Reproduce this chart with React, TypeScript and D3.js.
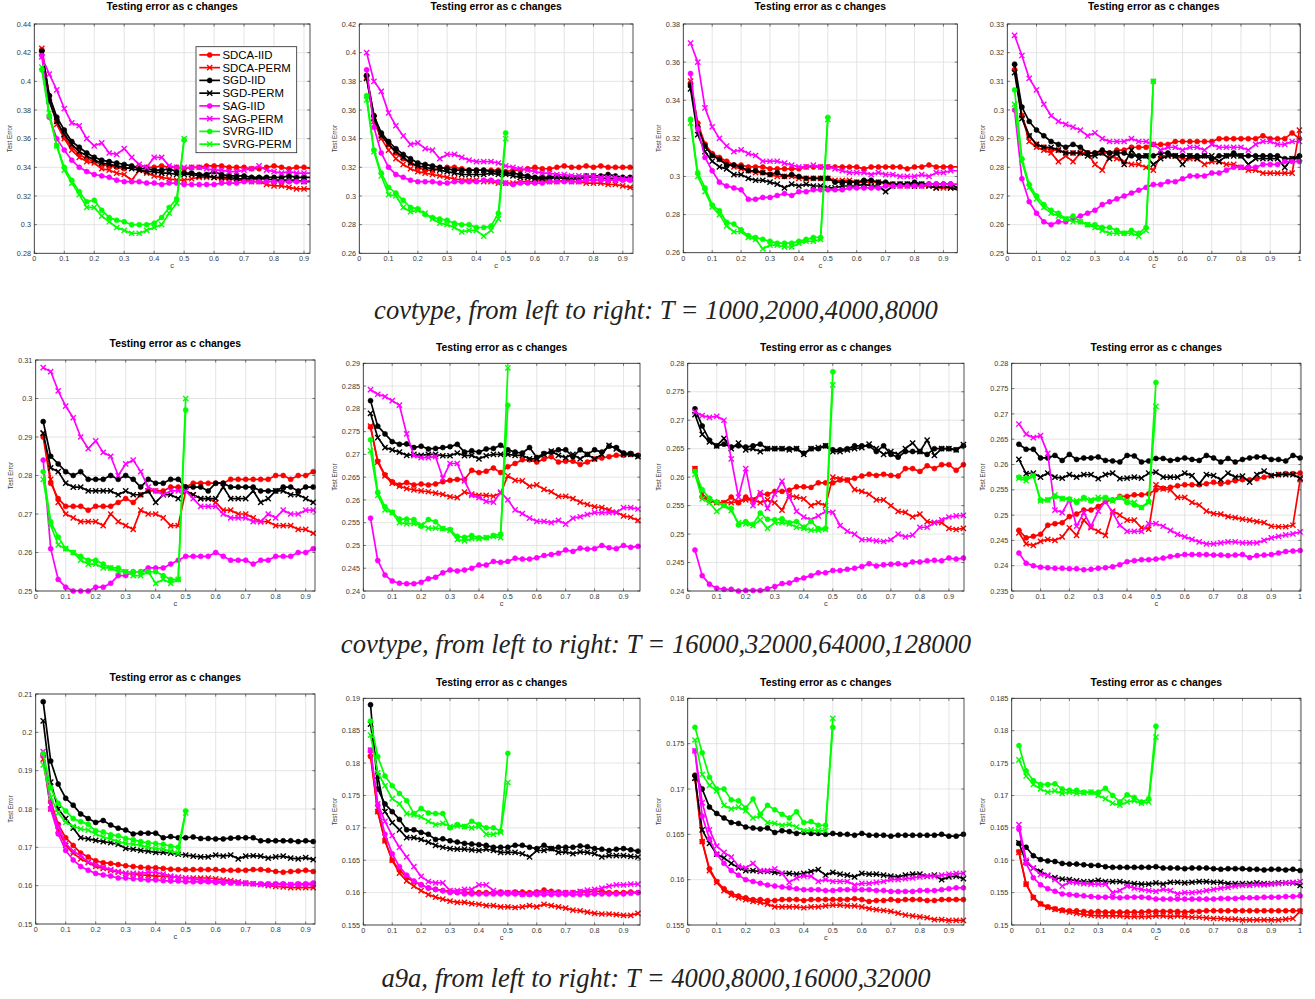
import React from 'react';
import * as d3 from 'd3';

// ---------------- c values ----------------
const C38 = [0.025,0.05,0.075,0.1,0.125,0.15,0.175,0.2,0.225,0.25,0.275,0.3,0.325,0.35,0.375,0.4,0.425,0.45,0.475,0.5,0.525,0.55,0.575,0.6,0.625,0.65,0.675,0.7,0.725,0.75,0.775,0.8,0.825,0.85,0.875,0.9,0.925,0.95];
const C40 = [0.025,0.05,0.075,0.1,0.125,0.15,0.175,0.2,0.225,0.25,0.275,0.3,0.325,0.35,0.375,0.4,0.425,0.45,0.475,0.5,0.525,0.55,0.575,0.6,0.625,0.65,0.675,0.7,0.725,0.75,0.775,0.8,0.825,0.85,0.875,0.9,0.925,0.95,0.975,1.0];
const C20 = [0.025,0.05,0.075,0.1,0.125,0.15,0.175,0.2,0.225,0.25,0.275,0.3,0.325,0.35,0.375,0.4,0.425,0.45,0.475,0.5];

const SERIES_NAMES = ['SDCA-IID','SDCA-PERM','SGD-IID','SGD-PERM','SAG-IID','SAG-PERM','SVRG-IID','SVRG-PERM'];
const SERIES_COLORS = ['#ff0000','#ff0000','#000000','#000000','#ff00ff','#ff00ff','#00ff00','#00ff00'];
const SERIES_MARKERS = ['o','x','o','x','o','x','o','x'];

const TITLE = 'Testing error as c changes';
const X_LABEL = 'c';
const Y_LABEL = 'Test Error';
const CAPTIONS = [
  'covtype, from left to right: T = 1000,2000,4000,8000',
  'covtype, from left to right: T = 16000,32000,64000,128000',
  'a9a, from left to right: T = 4000,8000,16000,32000',
];

const X_TICKS_9 = [0,0.1,0.2,0.3,0.4,0.5,0.6,0.7,0.8,0.9];
const X_TICKS_10 = [0,0.1,0.2,0.3,0.4,0.5,0.6,0.7,0.8,0.9,1];

// ---------------- Panel 1: covtype T=1000 ----------------
const P1_YTICKS = [0.28,0.3,0.32,0.34,0.36,0.38,0.4,0.42,0.44];
const P1_SDCA_IID = [0.422,0.390,0.372,0.361,0.354,0.349,0.346,0.344,0.342,0.341,0.340,0.339,0.340,0.341,0.340,0.340,0.341,0.340,0.340,0.339,0.340,0.340,0.341,0.341,0.341,0.340,0.340,0.340,0.339,0.339,0.340,0.341,0.340,0.339,0.340,0.340,0.339,0.339];
const P1_SDCA_PERM = [0.423,0.388,0.370,0.360,0.352,0.347,0.344,0.343,0.339,0.338,0.336,0.335,0.331,0.338,0.336,0.334,0.333,0.332,0.331,0.331,0.332,0.333,0.333,0.333,0.332,0.332,0.331,0.331,0.330,0.330,0.328,0.327,0.327,0.326,0.325,0.325,0.325,0.325];
const P1_SGD_IID = [0.421,0.390,0.375,0.366,0.358,0.354,0.350,0.347,0.345,0.344,0.343,0.342,0.341,0.339,0.339,0.338,0.338,0.339,0.337,0.336,0.336,0.335,0.335,0.337,0.335,0.334,0.334,0.334,0.333,0.333,0.333,0.333,0.333,0.334,0.333,0.333,0.333,0.333];
const P1_SGD_PERM = [0.420,0.386,0.372,0.363,0.356,0.351,0.348,0.345,0.343,0.342,0.341,0.340,0.339,0.338,0.337,0.337,0.336,0.336,0.335,0.335,0.335,0.334,0.334,0.333,0.333,0.333,0.332,0.332,0.332,0.332,0.332,0.331,0.331,0.331,0.331,0.330,0.330,0.330];
const P1_SAG_IID = [0.418,0.375,0.360,0.352,0.345,0.340,0.337,0.335,0.334,0.333,0.331,0.330,0.330,0.330,0.329,0.329,0.328,0.329,0.329,0.328,0.328,0.328,0.328,0.328,0.329,0.329,0.329,0.330,0.330,0.330,0.330,0.330,0.330,0.330,0.330,0.330,0.331,0.331];
const P1_SAG_PERM = [0.417,0.405,0.394,0.381,0.371,0.369,0.360,0.355,0.357,0.350,0.349,0.353,0.347,0.342,0.340,0.347,0.347,0.341,0.340,0.340,0.340,0.340,0.339,0.338,0.338,0.337,0.337,0.338,0.339,0.341,0.338,0.337,0.336,0.337,0.336,0.336,0.336,0.336];
const P1_SVRG_IID = [0.408,0.376,0.355,0.340,0.331,0.323,0.316,0.317,0.310,0.305,0.303,0.302,0.300,0.300,0.300,0.301,0.305,0.312,0.318,0.359];
const P1_SVRG_PERM = [0.410,0.378,0.355,0.338,0.329,0.321,0.312,0.312,0.306,0.302,0.298,0.296,0.294,0.294,0.296,0.298,0.300,0.308,0.315,0.360];

// ---------------- Panel 2: covtype T=2000 ----------------
const P2_YTICKS = [0.26,0.28,0.3,0.32,0.34,0.36,0.38,0.4,0.42];
const P2_SDCA_IID = [0.384,0.356,0.343,0.336,0.330,0.326,0.323,0.320,0.318,0.318,0.319,0.320,0.320,0.319,0.318,0.318,0.318,0.318,0.318,0.317,0.318,0.318,0.319,0.320,0.319,0.319,0.320,0.321,0.320,0.320,0.321,0.320,0.321,0.320,0.320,0.320,0.320,0.319];
const P2_SDCA_PERM = [0.383,0.352,0.340,0.332,0.326,0.322,0.319,0.317,0.316,0.315,0.314,0.313,0.312,0.311,0.311,0.311,0.310,0.310,0.309,0.309,0.309,0.310,0.310,0.310,0.311,0.310,0.310,0.311,0.310,0.310,0.309,0.309,0.309,0.308,0.308,0.307,0.306,0.306];
const P2_SGD_IID = [0.384,0.356,0.344,0.338,0.333,0.329,0.326,0.323,0.322,0.321,0.320,0.319,0.318,0.318,0.318,0.318,0.318,0.317,0.317,0.316,0.316,0.315,0.314,0.313,0.313,0.313,0.314,0.313,0.313,0.313,0.314,0.314,0.314,0.315,0.314,0.313,0.313,0.313];
const P2_SGD_PERM = [0.382,0.354,0.342,0.336,0.331,0.327,0.323,0.321,0.320,0.319,0.318,0.317,0.316,0.315,0.315,0.315,0.315,0.316,0.315,0.315,0.314,0.313,0.313,0.312,0.312,0.312,0.313,0.312,0.312,0.312,0.313,0.313,0.313,0.312,0.312,0.312,0.312,0.312];
const P2_SAG_IID = [0.388,0.348,0.330,0.320,0.315,0.313,0.311,0.310,0.310,0.310,0.309,0.309,0.310,0.310,0.310,0.310,0.311,0.311,0.310,0.309,0.308,0.309,0.309,0.309,0.309,0.310,0.310,0.310,0.310,0.310,0.311,0.311,0.311,0.311,0.311,0.311,0.311,0.311];
const P2_SAG_PERM = [0.400,0.380,0.373,0.358,0.349,0.342,0.336,0.337,0.333,0.332,0.326,0.329,0.329,0.327,0.325,0.324,0.324,0.324,0.323,0.321,0.320,0.319,0.318,0.317,0.316,0.316,0.315,0.315,0.314,0.314,0.314,0.314,0.313,0.313,0.313,0.312,0.312,0.312];
const P2_SVRG_IID = [0.370,0.332,0.316,0.306,0.302,0.297,0.292,0.291,0.287,0.285,0.284,0.283,0.281,0.280,0.280,0.278,0.278,0.279,0.288,0.344];
const P2_SVRG_PERM = [0.367,0.331,0.314,0.301,0.300,0.292,0.289,0.290,0.288,0.284,0.281,0.280,0.278,0.275,0.276,0.276,0.272,0.276,0.284,0.340];

// ---------------- Panel 3: covtype T=4000 ----------------
const P3_YTICKS = [0.26,0.28,0.3,0.32,0.34,0.36,0.38];
const P3_SDCA_IID = [0.349,0.328,0.317,0.312,0.310,0.308,0.306,0.306,0.305,0.305,0.305,0.304,0.304,0.304,0.304,0.304,0.305,0.305,0.305,0.305,0.305,0.305,0.305,0.305,0.304,0.305,0.305,0.305,0.305,0.305,0.304,0.305,0.305,0.306,0.305,0.305,0.305,0.305];
const P3_SDCA_PERM = [0.350,0.327,0.316,0.311,0.309,0.307,0.305,0.304,0.303,0.302,0.302,0.301,0.300,0.300,0.300,0.299,0.299,0.299,0.299,0.299,0.298,0.298,0.298,0.297,0.297,0.297,0.297,0.296,0.296,0.295,0.295,0.295,0.295,0.295,0.294,0.294,0.294,0.294];
const P3_SGD_IID = [0.348,0.326,0.316,0.311,0.309,0.306,0.306,0.305,0.303,0.303,0.302,0.301,0.302,0.300,0.301,0.300,0.299,0.299,0.299,0.299,0.297,0.297,0.297,0.297,0.298,0.298,0.297,0.297,0.296,0.296,0.296,0.297,0.296,0.296,0.296,0.296,0.296,0.294];
const P3_SGD_PERM = [0.346,0.322,0.313,0.308,0.305,0.304,0.301,0.301,0.299,0.298,0.298,0.297,0.296,0.294,0.296,0.295,0.296,0.295,0.295,0.294,0.294,0.295,0.295,0.295,0.296,0.295,0.295,0.292,0.295,0.296,0.296,0.295,0.296,0.295,0.294,0.295,0.294,0.293];
const P3_SAG_IID = [0.354,0.325,0.310,0.303,0.297,0.295,0.294,0.293,0.288,0.288,0.289,0.289,0.290,0.291,0.290,0.292,0.292,0.293,0.293,0.293,0.293,0.293,0.294,0.294,0.294,0.294,0.294,0.295,0.295,0.295,0.295,0.295,0.295,0.296,0.296,0.296,0.296,0.296];
const P3_SAG_PERM = [0.370,0.360,0.336,0.326,0.320,0.316,0.313,0.314,0.312,0.311,0.308,0.308,0.308,0.307,0.306,0.305,0.305,0.306,0.305,0.305,0.304,0.303,0.302,0.302,0.302,0.301,0.302,0.301,0.301,0.300,0.300,0.300,0.301,0.300,0.302,0.302,0.303,0.303];
const P3_SVRG_IID = [0.330,0.302,0.294,0.285,0.282,0.276,0.275,0.272,0.269,0.268,0.267,0.266,0.265,0.265,0.265,0.266,0.267,0.268,0.268,0.331];
const P3_SVRG_PERM = [0.328,0.300,0.292,0.284,0.280,0.274,0.271,0.271,0.268,0.267,0.262,0.264,0.264,0.263,0.263,0.265,0.266,0.266,0.267,0.330];

// ---------------- Panel 4: covtype T=8000 ----------------
const P4_YTICKS = [0.25,0.26,0.27,0.28,0.29,0.3,0.31,0.32,0.33];
const P4_SDCA_IID = [0.314,0.298,0.291,0.288,0.287,0.286,0.286,0.285,0.285,0.285,0.285,0.285,0.285,0.285,0.286,0.286,0.287,0.287,0.287,0.288,0.288,0.288,0.289,0.289,0.289,0.289,0.289,0.289,0.290,0.290,0.290,0.290,0.290,0.290,0.291,0.290,0.290,0.290,0.292,0.290];
const P4_SDCA_PERM = [0.315,0.298,0.289,0.287,0.286,0.285,0.282,0.284,0.282,0.285,0.285,0.281,0.279,0.284,0.283,0.282,0.281,0.281,0.280,0.279,0.284,0.284,0.284,0.283,0.283,0.283,0.281,0.282,0.282,0.281,0.281,0.280,0.279,0.279,0.278,0.278,0.278,0.278,0.278,0.293];
const P4_SGD_IID = [0.316,0.301,0.296,0.293,0.291,0.289,0.288,0.287,0.288,0.287,0.285,0.285,0.286,0.285,0.285,0.285,0.284,0.284,0.284,0.284,0.285,0.285,0.284,0.284,0.284,0.284,0.284,0.283,0.284,0.284,0.285,0.284,0.284,0.284,0.284,0.284,0.284,0.283,0.283,0.284];
const P4_SGD_PERM = [0.313,0.297,0.291,0.288,0.287,0.287,0.286,0.285,0.285,0.285,0.284,0.284,0.285,0.283,0.285,0.281,0.286,0.283,0.284,0.281,0.283,0.284,0.284,0.281,0.284,0.283,0.284,0.284,0.282,0.284,0.284,0.284,0.281,0.283,0.283,0.283,0.283,0.280,0.283,0.283];
const P4_SAG_IID = [0.300,0.276,0.268,0.264,0.261,0.260,0.261,0.261,0.262,0.263,0.264,0.265,0.267,0.268,0.269,0.270,0.271,0.272,0.273,0.274,0.274,0.275,0.275,0.276,0.277,0.277,0.277,0.278,0.278,0.279,0.280,0.280,0.280,0.280,0.281,0.281,0.281,0.282,0.282,0.282];
const P4_SAG_PERM = [0.326,0.319,0.311,0.307,0.302,0.298,0.296,0.295,0.294,0.293,0.291,0.292,0.290,0.289,0.289,0.289,0.290,0.289,0.289,0.288,0.286,0.287,0.287,0.286,0.287,0.287,0.286,0.288,0.287,0.287,0.287,0.287,0.286,0.288,0.289,0.289,0.288,0.288,0.289,0.289];
const P4_SVRG_IID = [0.307,0.283,0.274,0.270,0.267,0.265,0.264,0.262,0.263,0.261,0.260,0.260,0.259,0.259,0.258,0.257,0.258,0.257,0.259,0.310];
const P4_SVRG_PERM = [0.302,0.282,0.273,0.269,0.266,0.264,0.263,0.262,0.261,0.261,0.260,0.259,0.258,0.257,0.257,0.257,0.257,0.256,0.258,0.310];

// ---------------- Panel 5: covtype T=16000 ----------------
const P5_YTICKS = [0.25,0.26,0.27,0.28,0.29,0.3,0.31];
const P5_SDCA_IID = [0.290,0.278,0.274,0.272,0.272,0.272,0.271,0.272,0.272,0.272,0.273,0.274,0.273,0.275,0.276,0.276,0.276,0.277,0.277,0.277,0.278,0.278,0.278,0.278,0.278,0.279,0.279,0.279,0.279,0.279,0.279,0.280,0.280,0.279,0.280,0.280,0.281,0.281];
const P5_SDCA_PERM = [0.291,0.279,0.273,0.270,0.269,0.268,0.268,0.268,0.267,0.270,0.268,0.267,0.266,0.271,0.270,0.270,0.269,0.267,0.267,0.276,0.275,0.274,0.274,0.273,0.271,0.271,0.270,0.270,0.269,0.268,0.268,0.267,0.267,0.267,0.266,0.266,0.265,0.264];
const P5_SGD_IID = [0.294,0.285,0.283,0.281,0.280,0.281,0.279,0.279,0.279,0.280,0.279,0.280,0.279,0.277,0.279,0.278,0.278,0.279,0.279,0.277,0.277,0.277,0.276,0.278,0.278,0.277,0.277,0.277,0.277,0.276,0.276,0.276,0.277,0.277,0.276,0.277,0.277,0.277];
const P5_SGD_PERM = [0.291,0.282,0.281,0.278,0.277,0.277,0.276,0.276,0.276,0.276,0.275,0.276,0.275,0.275,0.276,0.273,0.275,0.275,0.274,0.276,0.275,0.274,0.274,0.274,0.277,0.274,0.274,0.274,0.276,0.273,0.274,0.276,0.276,0.275,0.275,0.274,0.273,0.275];
const P5_SAG_IID = [0.284,0.261,0.253,0.251,0.250,0.250,0.250,0.251,0.251,0.252,0.254,0.254,0.255,0.255,0.256,0.256,0.256,0.257,0.258,0.259,0.259,0.259,0.259,0.260,0.259,0.258,0.258,0.258,0.257,0.258,0.258,0.259,0.259,0.259,0.260,0.260,0.261,0.261];
const P5_SAG_PERM = [0.308,0.307,0.302,0.298,0.295,0.290,0.287,0.289,0.286,0.285,0.280,0.283,0.284,0.281,0.277,0.276,0.275,0.276,0.276,0.276,0.274,0.272,0.272,0.272,0.270,0.269,0.269,0.269,0.268,0.268,0.270,0.269,0.271,0.270,0.270,0.271,0.271,0.270];
const P5_SVRG_IID = [0.281,0.268,0.264,0.261,0.260,0.259,0.258,0.258,0.257,0.256,0.256,0.255,0.255,0.255,0.255,0.255,0.254,0.253,0.253,0.297];
const P5_SVRG_PERM = [0.279,0.267,0.262,0.261,0.260,0.258,0.257,0.257,0.256,0.256,0.255,0.255,0.254,0.254,0.255,0.252,0.253,0.252,0.253,0.300];

// ---------------- Panel 6: covtype T=32000 ----------------
const P6_YTICKS = [0.24,0.245,0.25,0.255,0.26,0.265,0.27,0.275,0.28,0.285,0.29];
const P6_SDCA_IID = [0.2760,0.2685,0.2655,0.2640,0.2633,0.2638,0.2633,0.2635,0.2633,0.2635,0.2640,0.2643,0.2645,0.2645,0.2665,0.2660,0.2663,0.2670,0.2660,0.2673,0.2680,0.2688,0.2688,0.2683,0.2690,0.2695,0.2683,0.2685,0.2685,0.2678,0.2683,0.2690,0.2692,0.2695,0.2698,0.2698,0.2700,0.2698];
const P6_SDCA_PERM = [0.2762,0.2683,0.2653,0.2637,0.2630,0.2625,0.2622,0.2620,0.2618,0.2615,0.2612,0.2607,0.2605,0.2617,0.2613,0.2610,0.2610,0.2608,0.2615,0.2653,0.2643,0.2642,0.2630,0.2633,0.2623,0.2618,0.2608,0.2608,0.2603,0.2595,0.2590,0.2585,0.2583,0.2578,0.2573,0.2565,0.2562,0.2555];
const P6_SGD_IID = [0.2818,0.2762,0.2745,0.2728,0.2722,0.2723,0.2715,0.2718,0.2712,0.2713,0.2715,0.2717,0.2722,0.2705,0.2708,0.2705,0.2712,0.2713,0.2720,0.2710,0.2705,0.2703,0.2715,0.2693,0.2702,0.2705,0.2710,0.2710,0.2695,0.2710,0.2700,0.2710,0.2705,0.2718,0.2715,0.2703,0.2702,0.2697];
const P6_SGD_PERM = [0.2790,0.2737,0.2715,0.2710,0.2705,0.2698,0.2700,0.2698,0.2700,0.2700,0.2697,0.2697,0.2703,0.2697,0.2698,0.2690,0.2697,0.2700,0.2700,0.2700,0.2698,0.2698,0.2690,0.2690,0.2700,0.2707,0.2698,0.2693,0.2700,0.2690,0.2700,0.2690,0.2700,0.2720,0.2712,0.2700,0.2700,0.2695];
const P6_SAG_IID = [0.2560,0.2467,0.2435,0.2422,0.2417,0.2416,0.2416,0.2419,0.2427,0.2430,0.2440,0.2446,0.2444,0.2446,0.2450,0.2457,0.2457,0.2465,0.2463,0.2465,0.2472,0.2470,0.2470,0.2473,0.2478,0.2480,0.2483,0.2490,0.2487,0.2494,0.2492,0.2493,0.2500,0.2495,0.2493,0.2500,0.2496,0.2498];
const P6_SAG_PERM = [0.2842,0.2832,0.2827,0.2818,0.2808,0.2745,0.2697,0.2693,0.2693,0.2695,0.2648,0.2680,0.2680,0.2642,0.2610,0.2605,0.2597,0.2595,0.2617,0.2600,0.2578,0.2570,0.2560,0.2553,0.2553,0.2550,0.2555,0.2547,0.2560,0.2563,0.2568,0.2572,0.2572,0.2572,0.2572,0.2583,0.2583,0.2580];
const P6_SVRG_IID = [0.2732,0.2617,0.2585,0.2573,0.2558,0.2558,0.2557,0.2542,0.2557,0.2552,0.2537,0.2535,0.2520,0.2518,0.2522,0.2517,0.2517,0.2522,0.2525,0.2808];
const P6_SVRG_PERM = [0.2708,0.2610,0.2578,0.2572,0.2550,0.2548,0.2548,0.2545,0.2538,0.2538,0.2537,0.2533,0.2513,0.2510,0.2515,0.2515,0.2517,0.2520,0.2517,0.2890];

// ---------------- Panel 7: covtype T=64000 ----------------
const P7_YTICKS = [0.24,0.245,0.25,0.255,0.26,0.265,0.27,0.275,0.28];
const P7_SDCA_IID = [0.2615,0.2565,0.2558,0.2556,0.2555,0.2565,0.2555,0.2565,0.2560,0.2570,0.2570,0.2575,0.2575,0.2577,0.2583,0.2583,0.2582,0.2590,0.2590,0.2590,0.2595,0.2595,0.2598,0.2602,0.2605,0.2603,0.2605,0.2603,0.2602,0.2615,0.2615,0.2610,0.2620,0.2615,0.2622,0.2622,0.2612,0.2622];
const P7_SDCA_PERM = [0.2615,0.2570,0.2560,0.2555,0.2555,0.2555,0.2557,0.2560,0.2560,0.2555,0.2560,0.2555,0.2542,0.2568,0.2565,0.2562,0.2550,0.2555,0.2550,0.2600,0.2597,0.2595,0.2578,0.2575,0.2570,0.2560,0.2560,0.2550,0.2540,0.2538,0.2530,0.2535,0.2522,0.2520,0.2520,0.2510,0.2508,0.2510];
const P7_SGD_IID = [0.2720,0.2690,0.2665,0.2655,0.2658,0.2653,0.2655,0.2653,0.2655,0.2658,0.2650,0.2650,0.2650,0.2650,0.2650,0.2642,0.2650,0.2650,0.2655,0.2648,0.2648,0.2650,0.2655,0.2655,0.2655,0.2645,0.2655,0.2640,0.2635,0.2645,0.2645,0.2645,0.2640,0.2650,0.2650,0.2650,0.2648,0.2655];
const P7_SGD_PERM = [0.2710,0.2675,0.2662,0.2655,0.2668,0.2650,0.2660,0.2648,0.2650,0.2645,0.2650,0.2650,0.2650,0.2648,0.2650,0.2640,0.2650,0.2652,0.2655,0.2645,0.2645,0.2648,0.2650,0.2652,0.2658,0.2650,0.2640,0.2645,0.2640,0.2650,0.2660,0.2645,0.2665,0.2638,0.2650,0.2650,0.2648,0.2657];
const P7_SAG_IID = [0.2472,0.2427,0.2412,0.2405,0.2403,0.2403,0.2400,0.2401,0.2401,0.2401,0.2404,0.2408,0.2413,0.2414,0.2420,0.2423,0.2427,0.2432,0.2432,0.2436,0.2436,0.2438,0.2440,0.2443,0.2448,0.2444,0.2446,0.2447,0.2448,0.2446,0.2451,0.2451,0.2453,0.2454,0.2453,0.2458,0.2456,0.2458];
const P7_SAG_PERM = [0.2715,0.2708,0.2705,0.2707,0.2700,0.2632,0.2565,0.2615,0.2550,0.2573,0.2545,0.2570,0.2593,0.2565,0.2540,0.2530,0.2525,0.2532,0.2540,0.2538,0.2515,0.2505,0.2500,0.2490,0.2490,0.2488,0.2487,0.2490,0.2500,0.2495,0.2498,0.2512,0.2512,0.2520,0.2525,0.2530,0.2532,0.2533];
const P7_SVRG_IID = [0.2610,0.2578,0.2563,0.2556,0.2550,0.2545,0.2516,0.2522,0.2517,0.2537,0.2526,0.2525,0.2527,0.2520,0.2522,0.2512,0.2522,0.2510,0.2510,0.2785];
const P7_SVRG_PERM = [0.2605,0.2562,0.2555,0.2540,0.2550,0.2541,0.2520,0.2518,0.2515,0.2525,0.2510,0.2520,0.2520,0.2518,0.2512,0.2510,0.2507,0.2507,0.2508,0.2762];

// ---------------- Panel 8: covtype T=128000 ----------------
const P8_YTICKS = [0.235,0.24,0.245,0.25,0.255,0.26,0.265,0.27,0.275,0.28];
const P8_SDCA_IID = [0.2470,0.2455,0.2458,0.2462,0.2480,0.2483,0.2485,0.2497,0.2502,0.2510,0.2510,0.2517,0.2527,0.2530,0.2537,0.2537,0.2540,0.2540,0.2542,0.2550,0.2553,0.2555,0.2558,0.2560,0.2560,0.2560,0.2562,0.2565,0.2562,0.2565,0.2568,0.2570,0.2570,0.2572,0.2575,0.2578,0.2580,0.2582,0.2582,0.2583];
const P8_SDCA_PERM = [0.2465,0.2443,0.2440,0.2448,0.2452,0.2450,0.2457,0.2475,0.2460,0.2490,0.2475,0.2468,0.2460,0.2508,0.2500,0.2490,0.2490,0.2475,0.2472,0.2560,0.2552,0.2550,0.2535,0.2535,0.2525,0.2520,0.2508,0.2503,0.2502,0.2497,0.2495,0.2492,0.2490,0.2487,0.2485,0.2478,0.2477,0.2477,0.2480,0.2570];
const P8_SGD_IID = [0.2640,0.2630,0.2630,0.2613,0.2613,0.2618,0.2608,0.2620,0.2610,0.2613,0.2613,0.2615,0.2608,0.2607,0.2605,0.2618,0.2617,0.2605,0.2607,0.2612,0.2612,0.2608,0.2610,0.2613,0.2610,0.2608,0.2618,0.2613,0.2605,0.2612,0.2605,0.2610,0.2613,0.2615,0.2615,0.2610,0.2610,0.2607,0.2618,0.2613];
const P8_SGD_PERM = [0.2610,0.2582,0.2583,0.2575,0.2583,0.2575,0.2573,0.2580,0.2575,0.2580,0.2580,0.2572,0.2580,0.2583,0.2572,0.2573,0.2575,0.2573,0.2583,0.2585,0.2575,0.2575,0.2575,0.2583,0.2578,0.2562,0.2580,0.2578,0.2570,0.2583,0.2575,0.2577,0.2565,0.2580,0.2587,0.2578,0.2580,0.2580,0.2580,0.2573];
const P8_SAG_IID = [0.2425,0.2405,0.2400,0.2397,0.2396,0.2395,0.2395,0.2394,0.2394,0.2392,0.2393,0.2395,0.2396,0.2398,0.2402,0.2408,0.2410,0.2412,0.2412,0.2413,0.2415,0.2418,0.2420,0.2422,0.2422,0.2422,0.2422,0.2421,0.2421,0.2420,0.2421,0.2422,0.2416,0.2420,0.2421,0.2422,0.2425,0.2428,0.2429,0.2430];
const P8_SAG_PERM = [0.2680,0.2660,0.2653,0.2657,0.2622,0.2510,0.2505,0.2530,0.2478,0.2505,0.2478,0.2508,0.2527,0.2505,0.2480,0.2468,0.2468,0.2468,0.2483,0.2483,0.2478,0.2470,0.2462,0.2457,0.2452,0.2447,0.2443,0.2443,0.2445,0.2447,0.2447,0.2445,0.2445,0.2445,0.2450,0.2455,0.2458,0.2461,0.2463,0.2467];
const P8_SVRG_IID = [0.2575,0.2573,0.2578,0.2530,0.2530,0.2537,0.2533,0.2532,0.2525,0.2535,0.2528,0.2532,0.2535,0.2530,0.2535,0.2525,0.2520,0.2515,0.2527,0.2762];
const P8_SVRG_PERM = [0.2573,0.2568,0.2578,0.2528,0.2530,0.2540,0.2532,0.2530,0.2528,0.2532,0.2530,0.2535,0.2533,0.2528,0.2535,0.2528,0.2525,0.2515,0.2525,0.2715];

// ---------------- Panel 9: a9a T=4000 ----------------
const P9_YTICKS = [0.15,0.16,0.17,0.18,0.19,0.2,0.21];
const P9_SDCA_IID = [0.1940,0.1820,0.1760,0.1725,0.1705,0.1685,0.1675,0.1665,0.1660,0.1658,0.1655,0.1652,0.1650,0.1648,0.1647,0.1647,0.1645,0.1643,0.1642,0.1642,0.1642,0.1642,0.1642,0.1642,0.1640,0.1640,0.1640,0.1640,0.1642,0.1642,0.1640,0.1637,0.1635,0.1637,0.1638,0.1640,0.1637,0.1637];
const P9_SDCA_PERM = [0.1930,0.1800,0.1745,0.1705,0.1685,0.1670,0.1660,0.1650,0.1645,0.1640,0.1635,0.1632,0.1630,0.1628,0.1627,0.1625,0.1625,0.1623,0.1622,0.1620,0.1620,0.1620,0.1620,0.1618,0.1615,0.1613,0.1610,0.1607,0.1605,0.1603,0.1600,0.1598,0.1597,0.1595,0.1595,0.1595,0.1595,0.1595];
const P9_SGD_IID = [0.2080,0.1925,0.1865,0.1828,0.1810,0.1787,0.1775,0.1765,0.1770,0.1758,0.1750,0.1745,0.1735,0.1737,0.1737,0.1737,0.1725,0.1728,0.1725,0.1725,0.1727,0.1723,0.1723,0.1722,0.1722,0.1724,0.1725,0.1725,0.1725,0.1717,0.1717,0.1717,0.1717,0.1717,0.1715,0.1717,0.1715,0.1712];
const P9_SGD_PERM = [0.2030,0.1870,0.1800,0.1775,0.1750,0.1725,0.1722,0.1718,0.1715,0.1712,0.1708,0.1697,0.1695,0.1692,0.1690,0.1687,0.1687,0.1685,0.1682,0.1680,0.1677,0.1675,0.1675,0.1680,0.1677,0.1680,0.1670,0.1677,0.1678,0.1677,0.1672,0.1675,0.1677,0.1672,0.1670,0.1673,0.1668,0.1670];
const P9_SAG_IID = [0.1940,0.1800,0.1735,0.1692,0.1667,0.1650,0.1640,0.1632,0.1628,0.1625,0.1620,0.1620,0.1618,0.1617,0.1615,0.1615,0.1613,0.1612,0.1612,0.1610,0.1610,0.1610,0.1610,0.1608,0.1607,0.1607,0.1607,0.1607,0.1605,0.1605,0.1605,0.1605,0.1605,0.1603,0.1605,0.1605,0.1607,0.1607];
const P9_SAG_PERM = [0.1950,0.1810,0.1755,0.1710,0.1690,0.1678,0.1662,0.1655,0.1648,0.1642,0.1637,0.1632,0.1632,0.1632,0.1635,0.1635,0.1630,0.1625,0.1622,0.1620,0.1617,0.1615,0.1613,0.1612,0.1612,0.1610,0.1607,0.1605,0.1605,0.1603,0.1603,0.1603,0.1603,0.1603,0.1603,0.1602,0.1603,0.1603];
const P9_SVRG_IID = [0.1945,0.1855,0.1815,0.1795,0.1775,0.1767,0.1760,0.1743,0.1740,0.1733,0.1730,0.1723,0.1720,0.1715,0.1712,0.1710,0.1708,0.1703,0.1700,0.1795];
const P9_SVRG_PERM = [0.1915,0.1830,0.1790,0.1765,0.1755,0.1748,0.1745,0.1735,0.1727,0.1722,0.1715,0.1710,0.1708,0.1705,0.1700,0.1697,0.1695,0.1690,0.1685,0.1790];

// ---------------- Panel 10: a9a T=8000 ----------------
const P10_YTICKS = [0.155,0.16,0.165,0.17,0.175,0.18,0.185,0.19];
const P10_SDCA_IID = [0.1810,0.1725,0.1680,0.1650,0.1635,0.1623,0.1617,0.1612,0.1607,0.1605,0.1603,0.1602,0.1600,0.1600,0.1600,0.1600,0.1600,0.1600,0.1601,0.1600,0.1601,0.1601,0.1600,0.1601,0.1604,0.1602,0.1601,0.1600,0.1600,0.1601,0.1601,0.1602,0.1602,0.1600,0.1600,0.1600,0.1601,0.1600];
const P10_SDCA_PERM = [0.1815,0.1725,0.1680,0.1650,0.1630,0.1618,0.1610,0.1603,0.1597,0.1593,0.1590,0.1587,0.1585,0.1585,0.1583,0.1582,0.1580,0.1580,0.1578,0.1578,0.1577,0.1578,0.1580,0.1578,0.1582,0.1580,0.1578,0.1576,0.1573,0.1572,0.1570,0.1568,0.1567,0.1567,0.1566,0.1565,0.1565,0.1568];
const P10_SGD_IID = [0.1890,0.1760,0.1737,0.1725,0.1713,0.1697,0.1697,0.1693,0.1690,0.1682,0.1683,0.1680,0.1678,0.1676,0.1675,0.1674,0.1673,0.1670,0.1670,0.1670,0.1673,0.1673,0.1670,0.1668,0.1673,0.1668,0.1670,0.1670,0.1670,0.1672,0.1671,0.1668,0.1667,0.1665,0.1667,0.1668,0.1666,0.1664];
const P10_SGD_PERM = [0.1860,0.1780,0.1725,0.1708,0.1697,0.1685,0.1685,0.1682,0.1678,0.1673,0.1670,0.1668,0.1667,0.1667,0.1666,0.1665,0.1667,0.1665,0.1662,0.1662,0.1662,0.1660,0.1655,0.1665,0.1665,0.1668,0.1662,0.1663,0.1660,0.1663,0.1662,0.1660,0.1655,0.1657,0.1657,0.1657,0.1656,0.1655];
const P10_SAG_IID = [0.1820,0.1735,0.1690,0.1660,0.1640,0.1627,0.1618,0.1612,0.1607,0.1605,0.1603,0.1600,0.1600,0.1598,0.1598,0.1598,0.1598,0.1598,0.1598,0.1598,0.1598,0.1597,0.1597,0.1597,0.1597,0.1597,0.1597,0.1597,0.1597,0.1597,0.1597,0.1598,0.1598,0.1598,0.1598,0.1598,0.1599,0.1600];
const P10_SAG_PERM = [0.1820,0.1737,0.1710,0.1688,0.1670,0.1655,0.1640,0.1625,0.1617,0.1615,0.1615,0.1603,0.1603,0.1605,0.1605,0.1612,0.1612,0.1603,0.1600,0.1600,0.1600,0.1598,0.1598,0.1600,0.1600,0.1600,0.1600,0.1600,0.1600,0.1602,0.1604,0.1605,0.1607,0.1610,0.1612,0.1612,0.1613,0.1613];
const P10_SVRG_IID = [0.1865,0.1810,0.1780,0.1765,0.1753,0.1742,0.1722,0.1730,0.1723,0.1722,0.1722,0.1700,0.1705,0.1702,0.1710,0.1705,0.1700,0.1700,0.1695,0.1815];
const P10_SVRG_PERM = [0.1843,0.1785,0.1765,0.1745,0.1737,0.1722,0.1720,0.1717,0.1710,0.1705,0.1707,0.1702,0.1703,0.1702,0.1700,0.1702,0.1690,0.1690,0.1693,0.1770];

// ---------------- Panel 11: a9a T=16000 ----------------
const P11_YTICKS = [0.155,0.16,0.165,0.17,0.175,0.18];
const P11_SDCA_IID = [0.1715,0.1642,0.1612,0.1598,0.1590,0.1585,0.1582,0.1580,0.1578,0.1578,0.1577,0.1577,0.1578,0.1578,0.1578,0.1577,0.1578,0.1578,0.1578,0.1578,0.1578,0.1578,0.1579,0.1578,0.1576,0.1577,0.1577,0.1578,0.1577,0.1578,0.1578,0.1578,0.1577,0.1577,0.1578,0.1578,0.1578,0.1578];
const P11_SDCA_PERM = [0.1712,0.1642,0.1610,0.1597,0.1588,0.1583,0.1580,0.1578,0.1576,0.1575,0.1573,0.1570,0.1570,0.1570,0.1570,0.1569,0.1570,0.1570,0.1571,0.1572,0.1572,0.1571,0.1571,0.1570,0.1568,0.1567,0.1566,0.1565,0.1563,0.1561,0.1560,0.1559,0.1558,0.1556,0.1556,0.1555,0.1555,0.1555];
const P11_SGD_IID = [0.1715,0.1700,0.1680,0.1673,0.1668,0.1663,0.1662,0.1658,0.1657,0.1656,0.1657,0.1652,0.1654,0.1653,0.1651,0.1652,0.1651,0.1651,0.1650,0.1651,0.1650,0.1650,0.1649,0.1651,0.1649,0.1649,0.1649,0.1648,0.1649,0.1649,0.1649,0.1649,0.1649,0.1649,0.1650,0.1648,0.1648,0.1650];
const P11_SGD_PERM = [0.1712,0.1655,0.1640,0.1628,0.1624,0.1618,0.1613,0.1610,0.1610,0.1609,0.1609,0.1608,0.1607,0.1607,0.1606,0.1607,0.1609,0.1611,0.1605,0.1608,0.1606,0.1605,0.1603,0.1607,0.1606,0.1606,0.1605,0.1604,0.1603,0.1605,0.1606,0.1606,0.1604,0.1605,0.1600,0.1603,0.1604,0.1601];
const P11_SAG_IID = [0.1742,0.1670,0.1645,0.1628,0.1618,0.1610,0.1605,0.1600,0.1598,0.1596,0.1594,0.1593,0.1592,0.1591,0.1590,0.1589,0.1589,0.1589,0.1588,0.1588,0.1589,0.1589,0.1589,0.1589,0.1589,0.1588,0.1588,0.1587,0.1587,0.1587,0.1587,0.1588,0.1588,0.1588,0.1589,0.1590,0.1591,0.1591];
const P11_SAG_PERM = [0.1742,0.1685,0.1655,0.1637,0.1630,0.1625,0.1615,0.1613,0.1618,0.1610,0.1610,0.1612,0.1607,0.1597,0.1602,0.1604,0.1604,0.1598,0.1600,0.1598,0.1598,0.1598,0.1594,0.1596,0.1596,0.1597,0.1598,0.1600,0.1600,0.1601,0.1602,0.1603,0.1604,0.1604,0.1605,0.1606,0.1607,0.1607];
const P11_SVRG_IID = [0.1768,0.1740,0.1713,0.1700,0.1700,0.1688,0.1687,0.1679,0.1689,0.1672,0.1682,0.1677,0.1672,0.1668,0.1675,0.1663,0.1664,0.1660,0.1660,0.1768];
const P11_SVRG_PERM = [0.1754,0.1716,0.1704,0.1698,0.1682,0.1678,0.1680,0.1676,0.1668,0.1670,0.1663,0.1662,0.1660,0.1661,0.1658,0.1654,0.1655,0.1654,0.1654,0.1778];

// ---------------- Panel 12: a9a T=32000 ----------------
const P12_YTICKS = [0.15,0.155,0.16,0.165,0.17,0.175,0.18,0.185];
const P12_SDCA_IID = [0.1613,0.1563,0.1543,0.1533,0.1528,0.1525,0.1523,0.1522,0.1522,0.1521,0.1520,0.1521,0.1520,0.1520,0.1520,0.1520,0.1520,0.1520,0.1521,0.1521,0.1521,0.1521,0.1521,0.1520,0.1521,0.1521,0.1522,0.1522,0.1522,0.1522,0.1522,0.1522,0.1522,0.1522,0.1522,0.1522,0.1522,0.1522,0.1522,0.1522];
const P12_SDCA_PERM = [0.1612,0.1563,0.1542,0.1532,0.1527,0.1524,0.1522,0.1520,0.1518,0.1516,0.1515,0.1514,0.1514,0.1514,0.1514,0.1513,0.1513,0.1513,0.1513,0.1514,0.1514,0.1513,0.1514,0.1513,0.1512,0.1512,0.1511,0.1510,0.1510,0.1509,0.1509,0.1508,0.1508,0.1508,0.1508,0.1508,0.1508,0.1509,0.1510,0.1521];
const P12_SGD_IID = [0.1626,0.1620,0.1607,0.1601,0.1599,0.1598,0.1595,0.1594,0.1594,0.1593,0.1592,0.1592,0.1590,0.1589,0.1589,0.1589,0.1589,0.1589,0.1589,0.1590,0.1588,0.1588,0.1588,0.1587,0.1588,0.1588,0.1588,0.1587,0.1586,0.1587,0.1587,0.1587,0.1586,0.1586,0.1585,0.1586,0.1586,0.1585,0.1586,0.1584];
const P12_SGD_PERM = [0.1627,0.1597,0.1588,0.1583,0.1576,0.1573,0.1571,0.1570,0.1568,0.1567,0.1567,0.1569,0.1567,0.1567,0.1567,0.1565,0.1564,0.1563,0.1563,0.1565,0.1563,0.1566,0.1566,0.1565,0.1566,0.1567,0.1567,0.1566,0.1566,0.1564,0.1564,0.1564,0.1564,0.1565,0.1564,0.1564,0.1565,0.1565,0.1565,0.1561];
const P12_SAG_IID = [0.1648,0.1595,0.1573,0.1562,0.1556,0.1552,0.1548,0.1547,0.1546,0.1545,0.1544,0.1543,0.1543,0.1543,0.1542,0.1543,0.1543,0.1543,0.1542,0.1540,0.1540,0.1540,0.1540,0.1540,0.1540,0.1540,0.1540,0.1540,0.1541,0.1541,0.1541,0.1542,0.1542,0.1542,0.1543,0.1543,0.1543,0.1544,0.1544,0.1545];
const P12_SAG_PERM = [0.1655,0.1600,0.1588,0.1578,0.1577,0.1570,0.1560,0.1566,0.1565,0.1564,0.1563,0.1563,0.1563,0.1550,0.1553,0.1560,0.1557,0.1555,0.1553,0.1552,0.1555,0.1553,0.1548,0.1550,0.1550,0.1551,0.1553,0.1555,0.1557,0.1558,0.1560,0.1561,0.1561,0.1562,0.1562,0.1563,0.1564,0.1565,0.1566,0.1567];
const P12_SVRG_IID = [0.1777,0.1738,0.1723,0.1717,0.1717,0.1718,0.1710,0.1708,0.1708,0.1705,0.1705,0.1705,0.1711,0.1700,0.1690,0.1701,0.1697,0.1690,0.1695,0.1807];
const P12_SVRG_PERM = [0.1755,0.1730,0.1717,0.1710,0.1705,0.1707,0.1703,0.1705,0.1703,0.1704,0.1705,0.1700,0.1695,0.1688,0.1685,0.1690,0.1692,0.1688,0.1690,0.1790];

// ---------------- assemble ----------------
const PANELS = [
  { yTicks: P1_YTICKS, xTicks: X_TICKS_9, c: C38, data: [P1_SDCA_IID,P1_SDCA_PERM,P1_SGD_IID,P1_SGD_PERM,P1_SAG_IID,P1_SAG_PERM,P1_SVRG_IID,P1_SVRG_PERM] },
  { yTicks: P2_YTICKS, xTicks: X_TICKS_9, c: C38, data: [P2_SDCA_IID,P2_SDCA_PERM,P2_SGD_IID,P2_SGD_PERM,P2_SAG_IID,P2_SAG_PERM,P2_SVRG_IID,P2_SVRG_PERM] },
  { yTicks: P3_YTICKS, xTicks: X_TICKS_9, c: C38, data: [P3_SDCA_IID,P3_SDCA_PERM,P3_SGD_IID,P3_SGD_PERM,P3_SAG_IID,P3_SAG_PERM,P3_SVRG_IID,P3_SVRG_PERM] },
  { yTicks: P4_YTICKS, xTicks: X_TICKS_10, c: C40, data: [P4_SDCA_IID,P4_SDCA_PERM,P4_SGD_IID,P4_SGD_PERM,P4_SAG_IID,P4_SAG_PERM,P4_SVRG_IID,P4_SVRG_PERM] },
  { yTicks: P5_YTICKS, xTicks: X_TICKS_9, c: C38, data: [P5_SDCA_IID,P5_SDCA_PERM,P5_SGD_IID,P5_SGD_PERM,P5_SAG_IID,P5_SAG_PERM,P5_SVRG_IID,P5_SVRG_PERM] },
  { yTicks: P6_YTICKS, xTicks: X_TICKS_9, c: C38, data: [P6_SDCA_IID,P6_SDCA_PERM,P6_SGD_IID,P6_SGD_PERM,P6_SAG_IID,P6_SAG_PERM,P6_SVRG_IID,P6_SVRG_PERM] },
  { yTicks: P7_YTICKS, xTicks: X_TICKS_9, c: C38, data: [P7_SDCA_IID,P7_SDCA_PERM,P7_SGD_IID,P7_SGD_PERM,P7_SAG_IID,P7_SAG_PERM,P7_SVRG_IID,P7_SVRG_PERM] },
  { yTicks: P8_YTICKS, xTicks: X_TICKS_10, c: C40, data: [P8_SDCA_IID,P8_SDCA_PERM,P8_SGD_IID,P8_SGD_PERM,P8_SAG_IID,P8_SAG_PERM,P8_SVRG_IID,P8_SVRG_PERM] },
  { yTicks: P9_YTICKS, xTicks: X_TICKS_9, c: C38, data: [P9_SDCA_IID,P9_SDCA_PERM,P9_SGD_IID,P9_SGD_PERM,P9_SAG_IID,P9_SAG_PERM,P9_SVRG_IID,P9_SVRG_PERM] },
  { yTicks: P10_YTICKS, xTicks: X_TICKS_9, c: C38, data: [P10_SDCA_IID,P10_SDCA_PERM,P10_SGD_IID,P10_SGD_PERM,P10_SAG_IID,P10_SAG_PERM,P10_SVRG_IID,P10_SVRG_PERM] },
  { yTicks: P11_YTICKS, xTicks: X_TICKS_9, c: C38, data: [P11_SDCA_IID,P11_SDCA_PERM,P11_SGD_IID,P11_SGD_PERM,P11_SAG_IID,P11_SAG_PERM,P11_SVRG_IID,P11_SVRG_PERM] },
  { yTicks: P12_YTICKS, xTicks: X_TICKS_10, c: C40, data: [P12_SDCA_IID,P12_SDCA_PERM,P12_SGD_IID,P12_SGD_PERM,P12_SAG_IID,P12_SAG_PERM,P12_SVRG_IID,P12_SVRG_PERM] },
];

// layout (pixel boxes of each axes area)
const BOXES = [
  { left: 34.3, right: 310, top: 24, bottom: 253.3, xMax: 0.92, titleY: 10 },
  { left: 359.3, right: 633, top: 24, bottom: 253.3, xMax: 0.935, titleY: 10 },
  { left: 683.3, right: 957.3, top: 24, bottom: 252.7, xMax: 0.948, titleY: 10 },
  { left: 1007.3, right: 1300.3, top: 24, bottom: 253.3, xMax: 1.003, titleY: 10 },
  { left: 35.7, right: 315, top: 360, bottom: 591, xMax: 0.931, titleY: 347 },
  { left: 363.3, right: 640, top: 363.3, bottom: 591, xMax: 0.957, titleY: 350.5 },
  { left: 687.7, right: 964, top: 363.3, bottom: 591, xMax: 0.952, titleY: 350.5 },
  { left: 1011.7, right: 1301, top: 363.3, bottom: 591, xMax: 1.003, titleY: 350.5 },
  { left: 35.7, right: 315, top: 694, bottom: 924, xMax: 0.931, titleY: 681 },
  { left: 363.3, right: 640, top: 698.3, bottom: 925, xMax: 0.957, titleY: 685.5 },
  { left: 687.7, right: 964, top: 698.3, bottom: 925, xMax: 0.952, titleY: 685.5 },
  { left: 1011.7, right: 1301, top: 698.3, bottom: 925, xMax: 1.003, titleY: 685.5 },
];
const CAPTION_Y = [319, 653, 987];

const SANS = '"Liberation Sans", Arial, Helvetica, sans-serif';
const SERIF = '"Liberation Serif", "Times New Roman", Times, serif';
const TICK_FS = 7.3;

const fmt = (v: number) => String(+v.toFixed(4));
const labelWidth = (s: string) => {
  let w = 0;
  for (const ch of s) w += ch === '.' ? 0.278 : 0.556;
  return w * TICK_FS;
};

function Marker({ kind, cx, cy, color }: { kind: string; cx: number; cy: number; color: string }) {
  if (kind === 'o') {
    return <circle cx={cx} cy={cy} r={2.5} fill={color} stroke={color} strokeWidth={0.6} />;
  }
  const s = 2.6;
  return (
    <path
      d={`M${cx - s},${cy - s}L${cx + s},${cy + s}M${cx - s},${cy + s}L${cx + s},${cy - s}`}
      stroke={color}
      strokeWidth={1.4}
      fill="none"
    />
  );
}

function Panel({ p, box, idx }: { p: any; box: any; idx: number }) {
  const yMin = p.yTicks[0];
  const yMax = p.yTicks[p.yTicks.length - 1];
  const x = d3.scaleLinear().domain([0, box.xMax]).range([box.left, box.right]);
  const y = d3.scaleLinear().domain([yMin, yMax]).range([box.bottom, box.top]);
  const line = d3.line<[number, number]>().x((d) => x(d[0])).y((d) => y(d[1]));
  const clipId = `clip-${idx}`;
  const maxW = d3.max(p.yTicks, (t: number) => labelWidth(fmt(t))) as number;
  const cx = (box.left + box.right) / 2;
  const cy = (box.top + box.bottom) / 2;
  const tickLen = 2.6;

  return (
    <g>
      <defs>
        <clipPath id={clipId}>
          <rect x={box.left} y={box.top} width={box.right - box.left} height={box.bottom - box.top} />
        </clipPath>
      </defs>
      <rect x={box.left} y={box.top} width={box.right - box.left} height={box.bottom - box.top} fill="#ffffff" />
      {p.xTicks.filter((t: number) => t <= box.xMax).map((t: number) => (
        <line key={`gx${t}`} x1={x(t)} x2={x(t)} y1={box.top} y2={box.bottom} stroke="#dedede" strokeWidth={0.8} />
      ))}
      {p.yTicks.map((t: number) => (
        <line key={`gy${t}`} x1={box.left} x2={box.right} y1={y(t)} y2={y(t)} stroke="#dedede" strokeWidth={0.8} />
      ))}
      {p.data.map((vals: number[], si: number) => {
        const cs = si >= 6 ? C20 : p.c;
        const pts: [number, number][] = vals.map((v, i) => [cs[i], v] as [number, number]).filter((d) => d[0] !== undefined);
        const color = SERIES_COLORS[si];
        return (
          <g key={`s${si}`}>
            <path d={line(pts) || ''} fill="none" stroke={color} strokeWidth={1.7} clipPath={`url(#${clipId})`} strokeLinejoin="round" />
            {pts
              .filter((d) => d[0] <= box.xMax + 1e-9)
              .map((d, i) => (
                <Marker key={i} kind={SERIES_MARKERS[si]} cx={x(d[0])} cy={y(d[1])} color={color} />
              ))}
          </g>
        );
      })}
      <rect x={box.left} y={box.top} width={box.right - box.left} height={box.bottom - box.top} fill="none" stroke="#262626" strokeWidth={0.8} />
      {p.xTicks.filter((t: number) => t <= box.xMax).map((t: number) => (
        <g key={`tx${t}`}>
          <line x1={x(t)} x2={x(t)} y1={box.bottom} y2={box.bottom - tickLen} stroke="#262626" strokeWidth={0.6} />
          <line x1={x(t)} x2={x(t)} y1={box.top} y2={box.top + tickLen} stroke="#262626" strokeWidth={0.6} />
          <text x={x(t)} y={box.bottom + 7.8} fontSize={TICK_FS} fontFamily={SANS} fill="#3a3a3a" textAnchor="middle">
            {fmt(t)}
          </text>
        </g>
      ))}
      {p.yTicks.map((t: number) => (
        <g key={`ty${t}`}>
          <line x1={box.left} x2={box.left + tickLen} y1={y(t)} y2={y(t)} stroke="#262626" strokeWidth={0.6} />
          <line x1={box.right} x2={box.right - tickLen} y1={y(t)} y2={y(t)} stroke="#262626" strokeWidth={0.6} />
          <text x={box.left - 3.3} y={y(t) + 2.6} fontSize={TICK_FS} fontFamily={SANS} fill="#3a3a3a" textAnchor="end">
            {fmt(t)}
          </text>
        </g>
      ))}
      <text x={cx} y={box.bottom + 15} fontSize={7.5} fontFamily={SANS} fill="#3a3a3a" textAnchor="middle">
        {X_LABEL}
      </text>
      <text
        transform={`translate(${box.left - 3.3 - maxW - 5}, ${cy}) rotate(-90)`}
        fontSize={6.3}
        fontFamily={SANS}
        fill="#3a3a3a"
        textAnchor="middle"
      >
        {Y_LABEL}
      </text>
      <text x={cx} y={box.titleY} fontSize={10.4} fontWeight="bold" fontFamily={SANS} fill="#000" textAnchor="middle">
        {TITLE}
      </text>
    </g>
  );
}

function Legend() {
  const left = 196, top = 46.7, w = 100.7, h = 106;
  const rowH = 12.75;
  return (
    <g>
      <rect x={left} y={top} width={w} height={h} fill="#ffffff" stroke="#262626" strokeWidth={0.8} />
      {SERIES_NAMES.map((name, i) => {
        const yy = top + 8.2 + i * rowH;
        const color = SERIES_COLORS[i];
        return (
          <g key={name}>
            <line x1={left + 3.3} x2={left + 24} y1={yy} y2={yy} stroke={color} strokeWidth={1.7} />
            <Marker kind={SERIES_MARKERS[i]} cx={left + 13.7} cy={yy} color={color} />
            <text x={left + 26.5} y={yy + 4} fontSize={11.4} fontFamily={SANS} fill="#000">
              {name}
            </text>
          </g>
        );
      })}
    </g>
  );
}

export default function App() {
  return (
    <svg
      width={1315}
      height={999}
      viewBox="0 0 1315 999"
      style={{ position: 'absolute', left: 0, top: 0, background: '#ffffff' }}
    >
      <rect x={0} y={0} width={1315} height={999} fill="#ffffff" />
      {PANELS.map((p, i) => (
        <Panel key={i} p={p} box={BOXES[i]} idx={i} />
      ))}
      <Legend />
      {CAPTIONS.map((t, i) => (
        <text key={i} x={656} y={CAPTION_Y[i]} fontSize={26.6} fontStyle="italic" fontFamily={SERIF} fill="#222" textAnchor="middle">
          {t}
        </text>
      ))}
    </svg>
  );
}
